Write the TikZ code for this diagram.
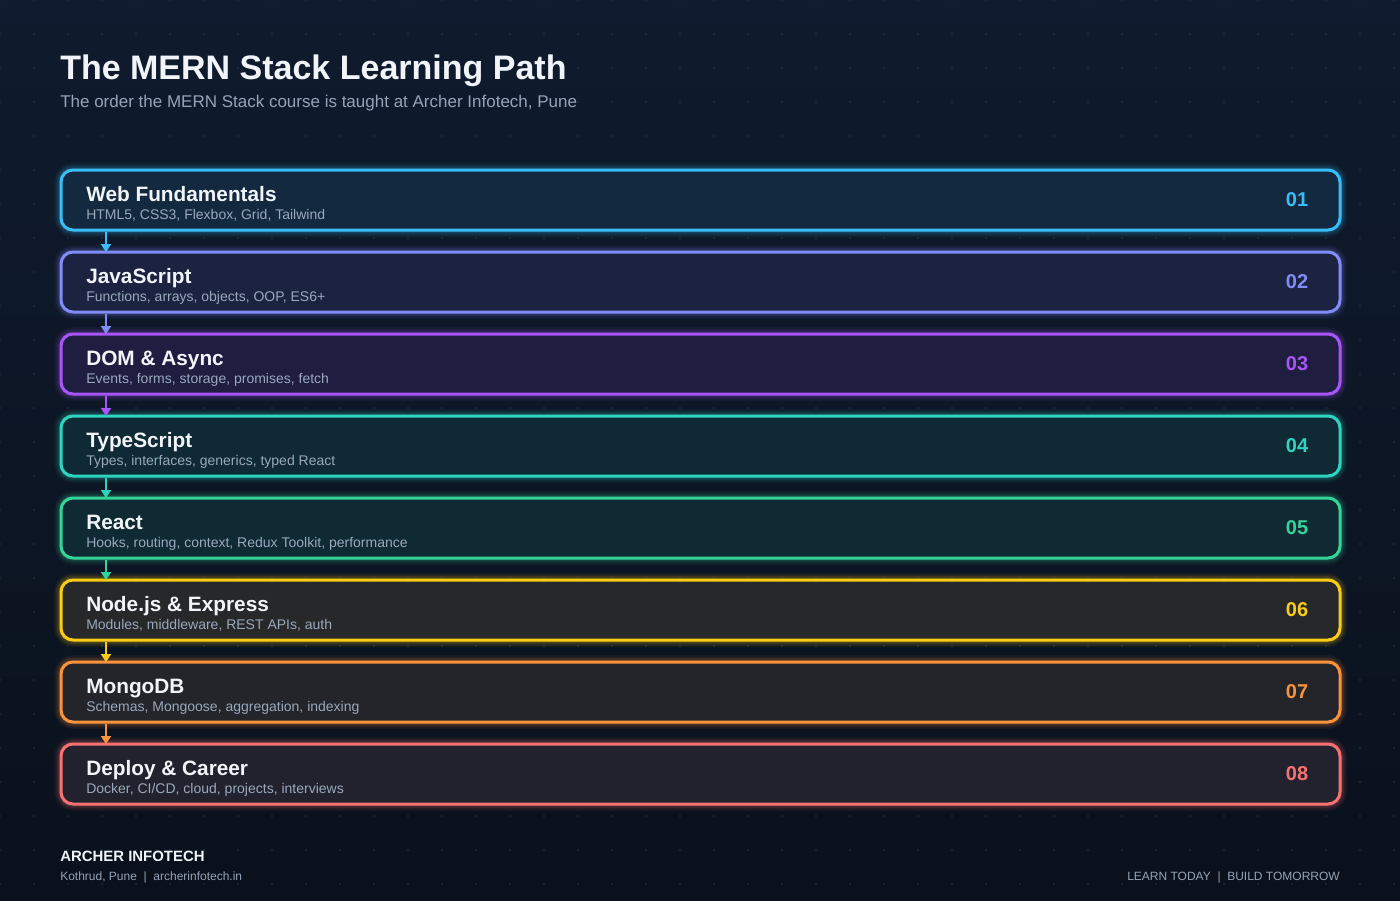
\documentclass[tikz,border=0pt]{standalone}
\usepackage{fontspec}
\setmainfont{Liberation Sans}
\usetikzlibrary{arrows.meta}
\definecolor{bgtop}{HTML}{0F1B2E}
\definecolor{bgbot}{HTML}{0A111C}
\definecolor{dotc}{HTML}{24344A}
\definecolor{titlec}{HTML}{F1F5F9}
\definecolor{subc}{HTML}{94A3B8}
\definecolor{boxsub}{HTML}{9AA8BC}
\definecolor{c1}{HTML}{38BDF8}\definecolor{f1}{HTML}{13293F}
\definecolor{c2}{HTML}{818CF8}\definecolor{f2}{HTML}{1B2340}
\definecolor{c3}{HTML}{A855F7}\definecolor{f3}{HTML}{1F1D40}
\definecolor{c4}{HTML}{2DD4BF}\definecolor{f4}{HTML}{0F2A35}
\definecolor{c5}{HTML}{34D399}\definecolor{f5}{HTML}{0F2A32}
\definecolor{c6}{HTML}{FACC15}\definecolor{f6}{HTML}{26282A}
\definecolor{c7}{HTML}{FB923C}\definecolor{f7}{HTML}{23252B}
\definecolor{c8}{HTML}{F87171}\definecolor{f8}{HTML}{22222E}
\tikzset{
  stagebox/.style={rounded corners=9pt, line width=2.25pt},
  glowbox/.style={rounded corners=9pt},
  stagetitle/.style={anchor=base west, inner sep=0pt, text=titlec, font=\fontsize{15.6}{18}\selectfont\bfseries},
  stagesub/.style={anchor=base west, inner sep=0pt, text=boxsub, font=\fontsize{10.5}{12}\selectfont},
  stagenum/.style={anchor=base, inner sep=0pt, font=\fontsize{15}{18}\selectfont\bfseries},
  flowarrow/.style={line width=1.5pt, -{Triangle[width=7.5pt,length=6pt]}},
}
\begin{document}
\begin{tikzpicture}[x=0.75pt,y=-0.75pt]
\useasboundingbox (0,0) rectangle (1400,900);
\shade[top color=bgtop, bottom color=bgbot] (0,0) rectangle (1400,900);
\foreach \i in {0,...,41}{
  \foreach \j in {0,...,26}{
    \fill[dotc] (\i*34,\j*34) circle (0.8);
  }
}
\node[anchor=base west, inner sep=0pt, text=titlec, font=\fontsize{25.5}{30}\selectfont\bfseries] (title) at (60,79) {The MERN Stack Learning Path};
\node[anchor=base west, inner sep=0pt, text=subc, font=\fontsize{12.75}{15}\selectfont] (subtitle) at (60,107) {The order the MERN Stack course is taught at Archer Infotech, Pune};

\foreach \k/\t/\s in {
  1/Web Fundamentals/{HTML5, CSS3, Flexbox, Grid, Tailwind},
  2/JavaScript/{Functions, arrays, objects, OOP, ES6+},
  3/DOM \& Async/{Events, forms, storage, promises, fetch},
  4/TypeScript/{Types, interfaces, generics, typed React},
  5/React/{Hooks, routing, context, Redux Toolkit, performance},
  6/Node.js \& Express/{Modules, middleware, REST APIs, auth},
  7/MongoDB/{Schemas, Mongoose, aggregation, indexing},
  8/Deploy \& Career/{Docker, CI/CD, cloud, projects, interviews}}{
  \pgfmathsetmacro{\top}{170+82*(\k-1)}
  \pgfmathsetmacro{\bot}{\top+60}
  \foreach \g/\op in {14/0.05,11/0.07,8/0.09,5/0.12}{
    \draw[glowbox, draw=c\k, draw opacity=\op, line width=\g*0.75pt] (61,\top) rectangle (1340,\bot);
  }
  \draw[stagebox, draw=c\k, fill=f\k] (61,\top) rectangle (1340,\bot);
  \node[stagetitle] (t\k) at (86,\top+31) {\t};
  \node[stagesub] (s\k) at (86,\top+49) {\s};
  \node[stagenum, text=c\k] (n\k) at (1297,\top+36) {0\k};
  \coordinate (bt\k) at (106,\top);
  \coordinate (bb\k) at (106,\bot);
}
\foreach \k [evaluate=\k as \n using int(\k+1)] in {1,...,7}{
  \draw[flowarrow, draw=c\k, fill=c\k] ([yshift=-1.5pt]bb\k) -- (bt\n);
}

\node[anchor=base west, inner sep=0pt, text=titlec, font=\fontsize{11.2}{13}\selectfont\bfseries] (brand) at (60,861) {ARCHER INFOTECH};
\node[anchor=base west, inner sep=0pt, text=subc, font=\fontsize{9}{11}\selectfont] (addr) at (60,880) {Kothrud, Pune\ \ |\ \ archerinfotech.in};
\node[anchor=base east, inner sep=0pt, text=subc, font=\fontsize{9}{11}\selectfont] (tag) at (1340,880) {LEARN TODAY\ \ |\ \ BUILD TOMORROW};
\end{tikzpicture}
\end{document}
